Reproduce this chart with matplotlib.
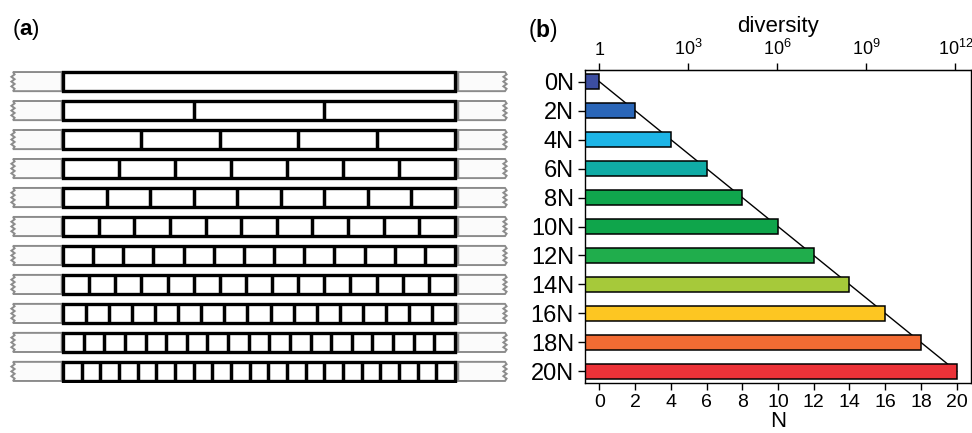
import numpy as np
import matplotlib
matplotlib.use("Agg")
import matplotlib.pyplot as plt
from matplotlib.patches import Rectangle, Polygon

plt.rcParams['font.family'] = ['Liberation Sans', 'DejaVu Sans']
plt.rcParams['mathtext.fontset'] = 'custom'
plt.rcParams['mathtext.rm'] = 'Liberation Sans'
plt.rcParams['mathtext.bf'] = 'Liberation Sans:bold'

# ---- data ----
labels = ['0N', '2N', '4N', '6N', '8N', '10N', '12N', '14N', '16N', '18N', '20N']
n_values = [0, 2, 4, 6, 8, 10, 12, 14, 16, 18, 20]
colors = ['#3c4ea2', '#2a66b8', '#1db5e7', '#10aca6', '#10a64d', '#0fa54b',
          '#20ad4c', '#a6c93a', '#fdc622', '#f26b33', '#ec3238']
div_exponents = [0, 3, 6, 9, 12]
div_labels = ['1', r'$\mathregular{10^{3}}$', r'$\mathregular{10^{6}}$',
              r'$\mathregular{10^{9}}$', r'$\mathregular{10^{12}}$']
x_ticks = [0, 2, 4, 6, 8, 10, 12, 14, 16, 18, 20]

W, H = 972, 433
fig = plt.figure(figsize=(W / 100, H / 100), dpi=100)

rows = np.arange(len(labels))
ax_bottom_px, ax_top_px = 383, 70
yb = 1 - ax_bottom_px / H
yh = (ax_bottom_px - ax_top_px) / H

# ---- panel (a) ----
axa = fig.add_axes([0, yb, 525 / W, yh])
axa.set_xlim(0, 525)
axa.set_ylim(10.4, -0.4)
axa.axis('off')
bar_l, bar_r = 63, 455
end_w = 50
bh = 0.66
for i, n in enumerate(n_values):
    y0 = i - bh / 2
    # gray end pieces with zigzag outer edges
    zz = np.linspace(y0, y0 + bh, 9)
    zx = np.array([0, 1.6, -1.6, 1.6, -1.6, 1.6, -1.6, 1.6, 0])
    left_poly = [(bar_l, y0)] + [(bar_l - end_w + x, y) for x, y in zip(zx, zz)] + [(bar_l, y0 + bh)]
    right_poly = [(bar_r, y0)] + [(bar_r + end_w + x, y) for x, y in zip(zx, zz)] + [(bar_r, y0 + bh)]
    for poly in (left_poly, right_poly):
        axa.add_patch(Polygon(poly, closed=True, facecolor='#fbfbfb',
                              edgecolor='#8c8c8c', lw=1.4))
    axa.vlines([bar_l - 1.5, bar_r + 1.5], y0, y0 + bh, color='#8c8c8c', lw=2.5, zorder=2)
    axa.add_patch(Rectangle((bar_l, y0), bar_r - bar_l, bh, facecolor='white',
                            edgecolor='black', lw=2.4, zorder=3))
    xs = np.linspace(bar_l, bar_r, n + 2)[1:-1]
    axa.vlines(xs, y0, y0 + bh, color='black', lw=2.5, zorder=4)

fig.text(12 / W, 1 - 30 / H, r'($\mathbf{a}$)', fontsize=16, va='center', ha='left')

# ---- panel (b) ----
axb = fig.add_axes([585 / W, yb, (971 - 585) / W, yh])
xlim = (-0.8, 20.8)
axb.set_xlim(*xlim)
axb.set_ylim(10.4, -0.4)
axb.plot(n_values, rows, color='black', lw=1.0, zorder=1)
axb.barh(rows, np.array(n_values) - xlim[0], left=xlim[0], height=0.5,
         color=colors, edgecolor='black', lw=1.1, zorder=2)
axb.set_yticks(rows)
axb.set_yticklabels(labels, fontsize=17)
axb.set_xticks(x_ticks)
axb.tick_params(axis='x', labelsize=14, length=5, width=1, pad=3)
axb.tick_params(axis='y', length=5, width=1, pad=3)
axb.set_xlabel('N', fontsize=16, labelpad=0)
for s in axb.spines.values():
    s.set_linewidth(1.0)

l4 = np.log10(4)
sec = axb.secondary_xaxis('top', functions=(lambda n: n * l4, lambda d: d / l4))
sec.set_xticks(div_exponents)
sec.set_xticklabels(div_labels)
sec.tick_params(labelsize=13, length=5, width=1, pad=3)
sec.set_xlabel('diversity', fontsize=16, labelpad=5)

fig.text(528 / W, 1 - 30 / H, r'($\mathbf{b}$)', fontsize=16.5, va='center', ha='left')

fig.savefig('out.png', dpi=100)
